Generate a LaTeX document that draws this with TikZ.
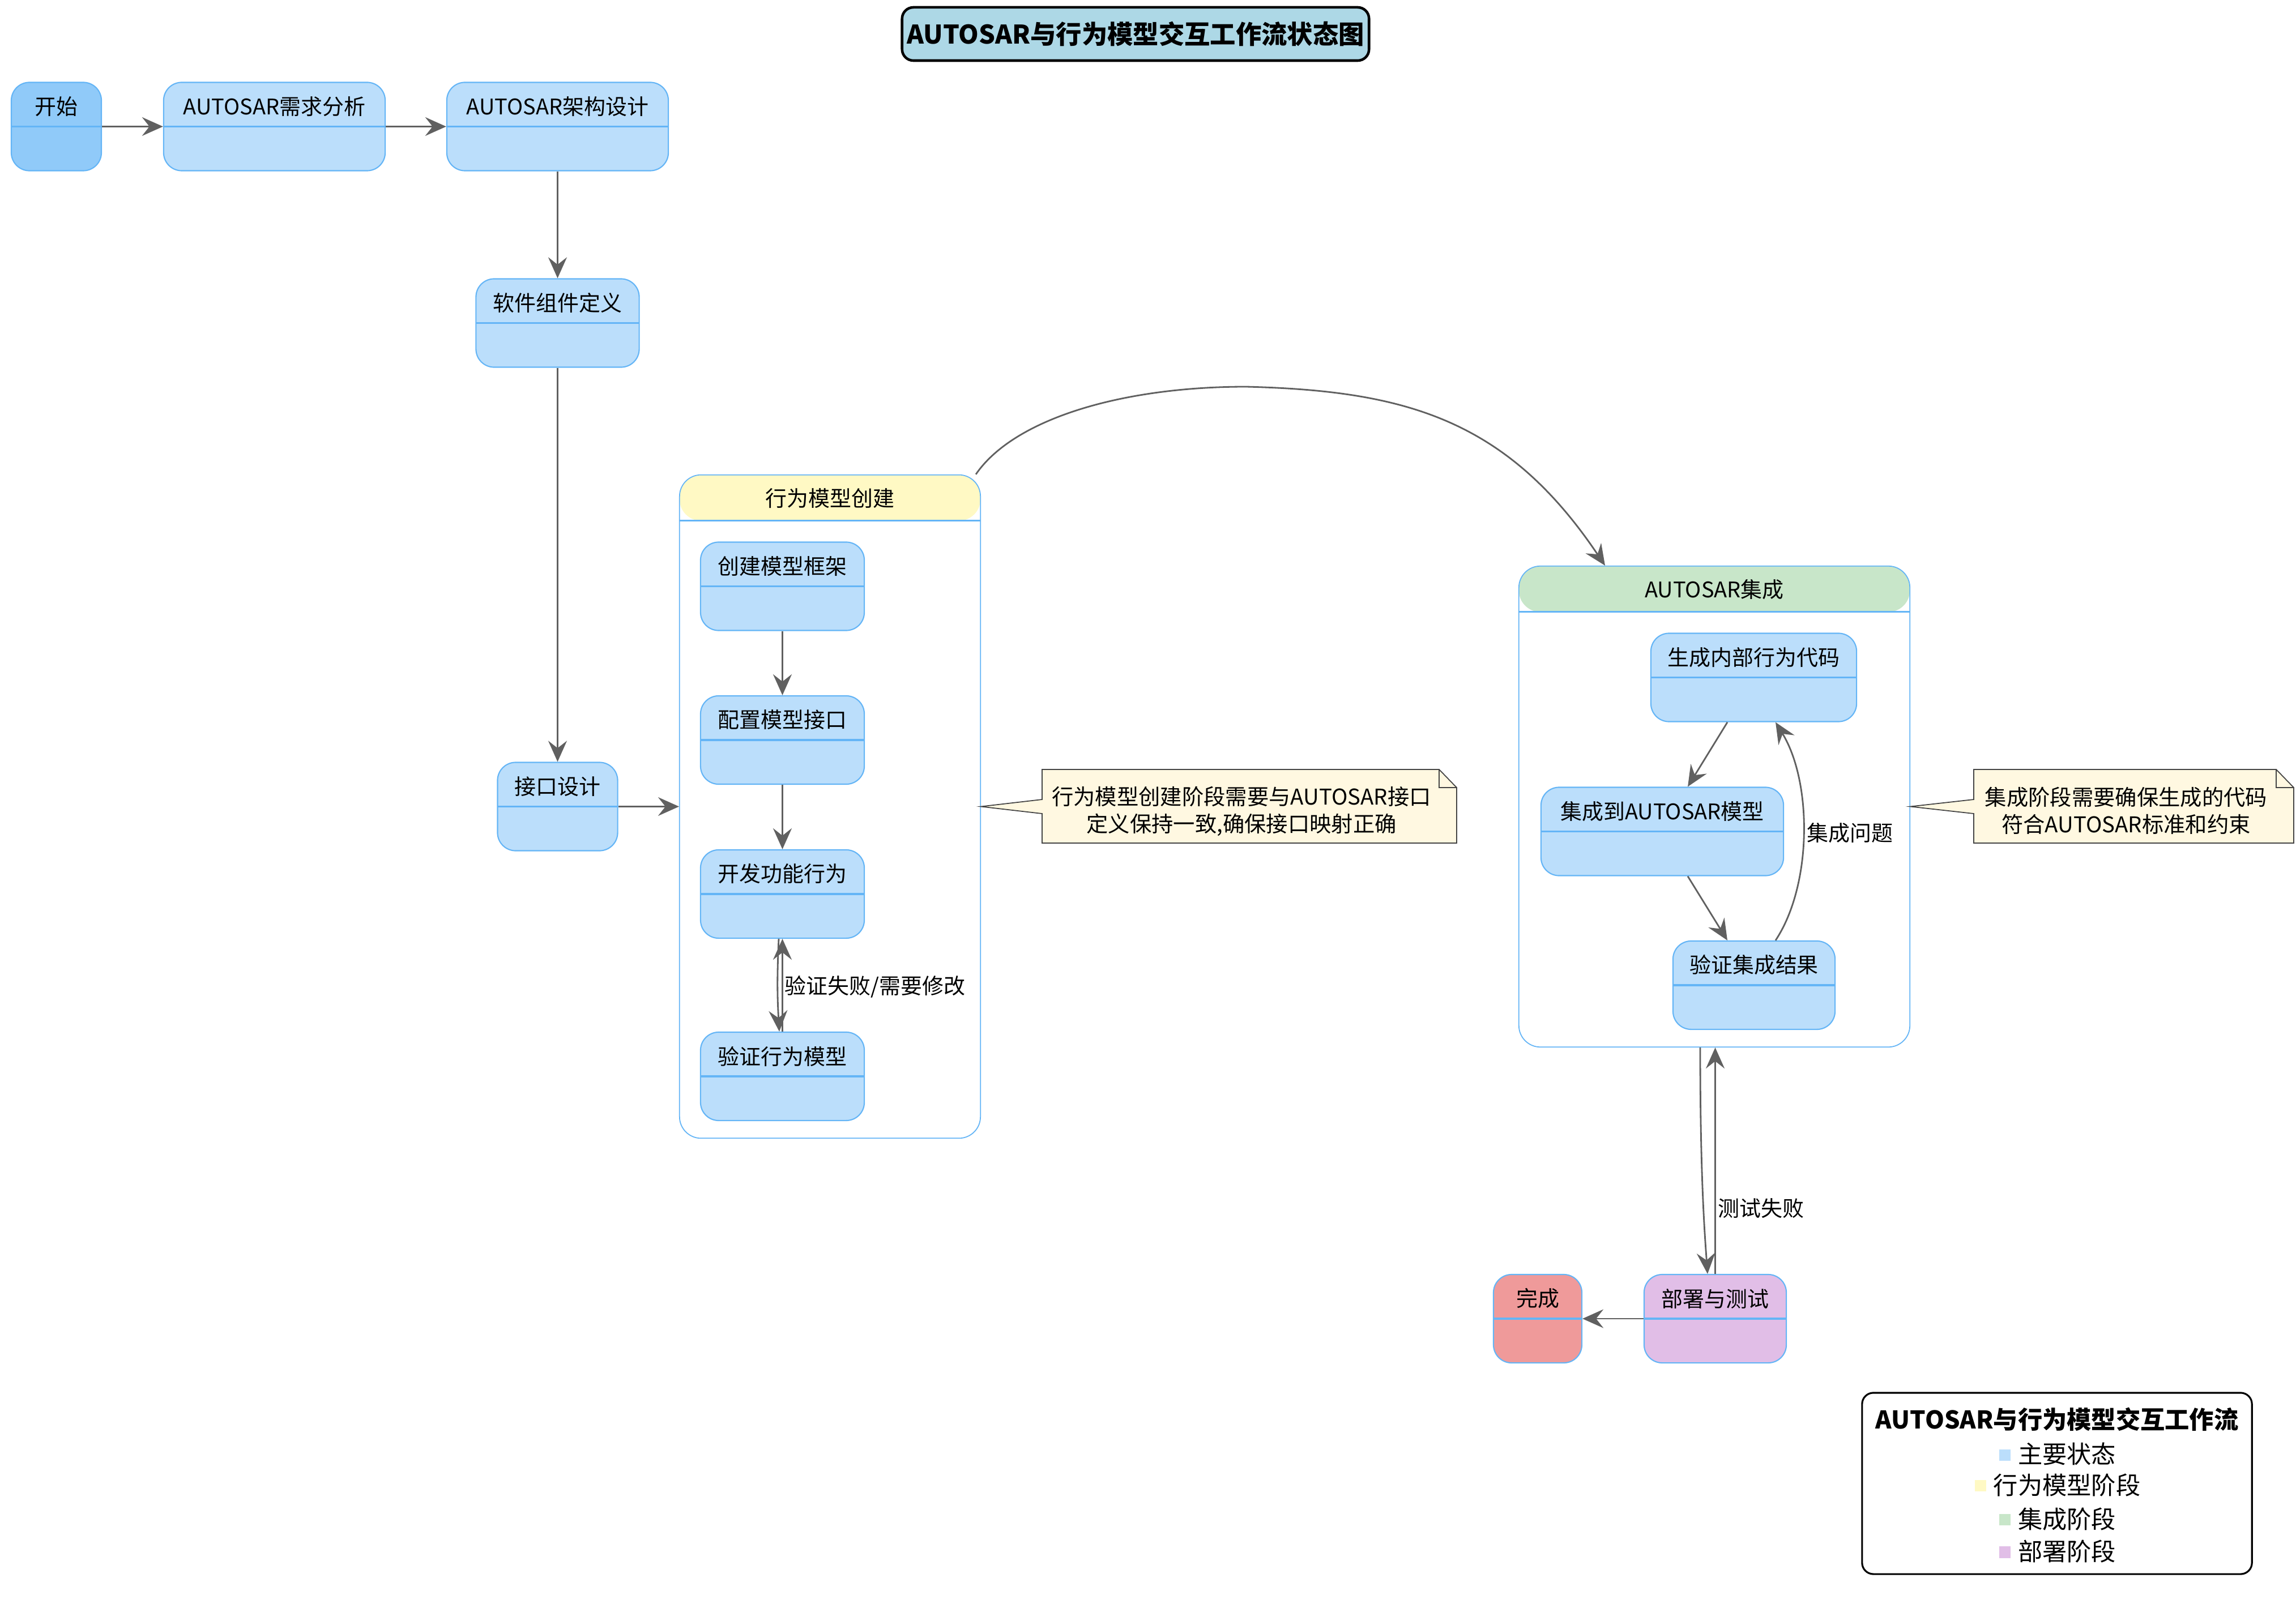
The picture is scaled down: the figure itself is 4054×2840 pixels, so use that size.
\documentclass[tikz,border=0pt]{standalone}
\usepackage{fontspec}
\setmainfont{Noto Sans CJK SC}
\usetikzlibrary{arrows.meta,calc}

\definecolor{stfill}{HTML}{BBDEFB}
\definecolor{stline}{HTML}{64B5F6}
\definecolor{startfill}{HTML}{90CAF9}
\definecolor{behhead}{HTML}{FFF9C4}
\definecolor{inthead}{HTML}{C8E6C9}
\definecolor{depfill}{HTML}{E1BEE7}
\definecolor{donefill}{HTML}{EF9A9A}
\definecolor{notefill}{HTML}{FFF8E1}
\definecolor{noteline}{HTML}{444444}
\definecolor{arrowc}{HTML}{606060}
\definecolor{titlefill}{HTML}{ADD8E6}

\newcommand\nodefs{\fontsize{10.8pt}{12.9pt}\selectfont}
\newcommand\notefs{\fontsize{10.9pt}{13.66pt}\selectfont}
\newcommand\titlefs{\fontsize{12.9pt}{15.5pt}\selectfont}
\newcommand\legfs{\fontsize{12.3pt}{14.7pt}\selectfont}
\newcommand\legsq[1]{\textcolor{#1}{\rule[0.05cm]{0.2cm}{0.2cm}}\hspace{0.13cm}}

\begin{document}
\begin{tikzpicture}[x=0.01cm, y=-0.01cm,
  stbox/.style={draw=stline, fill=stfill, line width=0.6pt, rounded corners=0.32cm,
    minimum height=1.56cm, inner sep=0pt,
    path picture={\draw[stline, line width=0.9pt] (path picture bounding box.west) -- (path picture bounding box.east);},
    label={[font=\nodefs, inner sep=0pt, yshift=0.355cm]center:#1}},
  grp/.style 2 args={draw=stline, line width=0.5pt, fill=white, rounded corners=0.38cm, inner sep=0pt,
    path picture={
      \fill[#1] (path picture bounding box.north west) rectangle ([yshift=-0.81cm]path picture bounding box.north east);
      \draw[stline, line width=0.8pt] ([yshift=-0.81cm]path picture bounding box.north west) -- ([yshift=-0.81cm]path picture bounding box.north east);},
    label={[font=\nodefs, inner sep=0pt, anchor=center, yshift=-0.42cm]north:#2}},
  trans/.style={draw=arrowc, line width=0.8pt, -{Stealth[length=0.37cm, width=0.33cm, inset=0.13cm]}},
  lbl/.style={font=\nodefs, inner sep=0pt, text=black},
  notebox/.style={draw=noteline, fill=notefill, line width=0.5pt, line join=miter},
  notetext/.style={font=\notefs, align=center, inner sep=0pt}
]
\fill[white] (0,0) rectangle (4054,2840);
\useasboundingbox (0,0) rectangle (4054,2840);

% title
\node[draw=black, line width=1.3pt, fill=titlefill, rounded corners=0.2cm,
      minimum width=8.24cm, minimum height=0.94cm, inner sep=0pt, font=\titlefs\bfseries]
      (title) at (2005,60) {AUTOSAR与行为模型交互工作流状态图};

% top row and left column
\node[stbox=开始, fill=startfill, minimum width=1.59cm] (start) at (99.5,223.5) {};
\node[stbox=AUTOSAR需求分析, minimum width=3.91cm] (req) at (484.5,223.5) {};
\node[stbox=AUTOSAR架构设计, minimum width=3.91cm] (arch) at (984.5,223.5) {};
\node[stbox=软件组件定义, minimum width=2.88cm] (swc) at (984.5,570.5) {};
\node[stbox=接口设计, minimum width=2.12cm] (ifd) at (984.5,1424.5) {};

% composite states
\node[grp={behhead}{行为模型创建}, minimum width=5.31cm, minimum height=11.71cm] (beh) at (1465.5,1424.5) {};
\node[grp={inthead}{AUTOSAR集成}, minimum width=6.90cm, minimum height=8.49cm] (integ) at (3027,1424.5) {};

% behaviour model sub-states
\node[stbox=创建模型框架, minimum width=2.89cm] (b1) at (1381.5,1035.5) {};
\node[stbox=配置模型接口, minimum width=2.89cm] (b2) at (1381.5,1307) {};
\node[stbox=开发功能行为, minimum width=2.89cm] (b3) at (1381.5,1579) {};
\node[stbox=验证行为模型, minimum width=2.89cm] (b4) at (1381.5,1901) {};

% integration sub-states
\node[stbox=生成内部行为代码, minimum width=3.63cm] (i1) at (3096.5,1196.5) {};
\node[stbox=集成到AUTOSAR模型, minimum width=4.28cm] (i2) at (2935,1468.5) {};
\node[stbox=验证集成结果, minimum width=2.86cm] (i3) at (3097,1740) {};

% deployment and end
\node[stbox=完成, fill=donefill, minimum width=1.56cm] (done) at (2715,2329) {};
\node[stbox=部署与测试, fill=depfill, minimum width=2.51cm] (dep) at (3028.5,2329) {};

% transitions
\draw[trans] (start.east) -- (req.west);
\draw[trans] (req.east) -- (arch.west);
\draw[trans] (arch.south) -- (swc.north);
\draw[trans] (swc.south) -- (ifd.north);
\draw[trans] (ifd.east) -- (beh.west);

\coordinate (arcTop) at (2200,683);
\draw[trans] ([xshift=-0.09cm]beh.north east) .. controls (1790,740) and (1980,683) .. (arcTop)
   .. controls (2480,690) and (2660,740) .. ([xshift=1.53cm]integ.north west);

\draw[trans] (b1.south) -- (b2.north);
\draw[trans] (b2.south) -- (b3.north);
\draw[trans] ([xshift=-0.065cm]b3.south) to[bend right=3] ([xshift=-0.055cm]b4.north);
\draw[trans] (b4.north) -- (b3.south)
   node[lbl, anchor=west, pos=0.48, xshift=0.03cm] {验证失败/需要修改};

\draw[trans] ([xshift=-0.465cm]i1.south) -- ([xshift=0.45cm]i2.north);
\draw[trans] ([xshift=0.45cm]i2.south) -- ([xshift=-0.47cm]i3.north);
\draw[trans] ([xshift=0.38cm]i3.north) .. controls +(0.65cm,0.98cm) and +(0.65cm,-1.06cm) .. ([xshift=0.385cm]i1.south)
   node[lbl, anchor=west, pos=0.5, xshift=0.05cm] {集成问题};

\draw[trans] ([xshift=-0.25cm]integ.south) .. controls +(0,-2.3cm) and +(-0.05cm,0.7cm) .. ([xshift=-0.135cm]dep.north);
\draw[trans] (dep.north) -- (dep.north |- integ.south)
   node[lbl, anchor=west, pos=0.29, xshift=0.04cm] {测试失败};
\draw[trans] (dep.west) -- (done.east);

% notes
\draw[notebox] (1840,1359) -- (2541,1359) -- (2572,1391) -- (2572,1489) -- (1840,1489)
   -- (1840,1437) -- (beh.east) -- (1840,1412) -- cycle;
\draw[noteline, line width=0.5pt] (2541,1359) -- (2541,1391) -- (2572,1391);
\node[notetext] (note1) at (2192,1433) {行为模型创建阶段需要与AUTOSAR接口\\定义保持一致,确保接口映射正确};

\draw[notebox] (3485,1359) -- (4019,1359) -- (4050,1391) -- (4050,1489) -- (3485,1489)
   -- (3485,1437) -- (integ.east) -- (3485,1412) -- cycle;
\draw[noteline, line width=0.5pt] (4019,1359) -- (4019,1391) -- (4050,1391);
\node[notetext] (note2) at (3754,1432) {集成阶段需要确保生成的代码\\符合AUTOSAR标准和约束};

% legend
\node[draw=black, line width=0.9pt, rounded corners=0.2cm, minimum width=6.88cm, minimum height=3.2cm, inner sep=0pt]
   (legend) at (3632,2620) {};
\node[font=\legfs\bfseries, inner sep=0pt] (legtitle) at (3632,2507) {AUTOSAR与行为模型交互工作流};
\node[font=\legfs, inner sep=0pt] (leg1) at (3633,2568) {\legsq{stfill}主要状态};
\node[font=\legfs, inner sep=0pt] (leg2) at (3633,2623) {\legsq{behhead}行为模型阶段};
\node[font=\legfs, inner sep=0pt] (leg3) at (3633,2683) {\legsq{inthead}集成阶段};
\node[font=\legfs, inner sep=0pt] (leg4) at (3633,2740) {\legsq{depfill}部署阶段};
\end{tikzpicture}
\end{document}
